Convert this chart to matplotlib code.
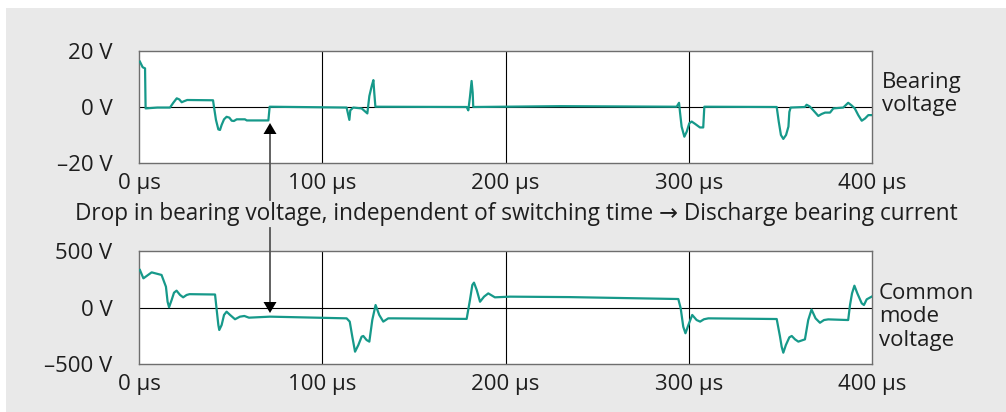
import numpy as np
import matplotlib.pyplot as plt
from matplotlib.patches import Rectangle, Polygon
from matplotlib.lines import Line2D

plt.rcParams.update({
    'font.family': ['Open Sans', 'DejaVu Sans'],
    'font.size': 16,
})

# bearing voltage trace (µs, V)
bear_t = [0.5, 2.0, 3.3, 3.6, 10, 16.9, 18.7, 20.6, 22.0, 23.3, 24.7, 26.3, 40.4,
          40.9, 42.0, 43.3, 44.2, 45.1, 46.4, 47.8, 49.3, 50.6, 51.8, 53.3, 57.8, 58.8, 70.6, 71.3,
          113.3, 114.8, 115.3, 116.9, 121.5, 124.6, 125.7, 127.0, 127.9, 128.4, 129.0,
          178.8, 179.7, 180.6, 181.5, 182.1, 182.4, 230,
          293.4, 294.7, 295.2, 296.1, 297.6, 298.9, 300.3, 301.6, 303.4, 306.1, 307.9, 308.5,
          348, 349.1, 350.3, 351.6, 353.1, 354.4, 354.9, 355.6, 363.4, 364.3, 366, 368, 370.7,
          372.5, 374.4, 377.1, 378.9, 384.3, 387, 388.8, 390.6, 392.5, 394.4, 396.2, 398, 399.8]
bear_v = [16.2, 14.2, 13.8, -0.5, -0.2, -0.2, 1.5, 3.1, 2.7, 1.7, 2.1, 2.5, 2.4,
          0.1, -4.6, -8.0, -8.2, -6.4, -4.4, -3.5, -3.8, -4.9, -5.0, -4.4, -4.4, -4.8, -4.8, 0.1,
          -0.2, -4.6, -1.2, -0.2, -0.5, -2.3, 3.9, 7.5, 9.6, 5.0, 0.1,
          0.0, -1.2, 3.6, 9.3, 5.0, 0.0, 0.3,
          0.1, 1.5, -1.7, -7.0, -10.6, -8.8, -5.8, -5.2, -6.0, -7.3, -7.3, 0.1,
          0.0, -5.2, -10.0, -11.4, -10.0, -7.0, -1.8, -0.2, 0.0, 0.8, 0.2, -1.2, -3.2,
          -2.5, -2.0, -2.0, -0.5, -0.2, 1.5, 0.6, -0.5, -2.9, -4.9, -4.1, -2.9, -2.9]

# common mode voltage trace (µs, V)
cm_t = [0.5, 2.4, 6.9, 12.3, 14.7, 15.6, 16.4, 17.8, 19.1, 20.5, 22.4, 24.1, 26.0, 27.6, 41.5,
        42.4, 43.3, 43.8, 45.1, 46.4, 47.8, 49.7, 52.4, 55.1, 57.5, 60, 71.5,
        113.3, 115, 116.4, 117.9, 119.7, 121.5, 122.4, 124.2, 125.7, 127.3, 129.1, 131.1, 133.3,
        136, 138.8, 178.8, 180.6, 181.9, 182.8, 184.3, 186.1, 188.3, 190.6, 194.2, 202.5, 235,
        294.3, 295.6, 297, 298.2, 299.8, 301.9, 304.3, 306.2, 308.3, 310.7,
        348, 349.8, 350.7, 351.6, 353, 354.9, 356.2, 358, 359.8, 363.4, 365.2, 367, 369.2,
        371.6, 373.8, 376.1, 387, 388, 389.1, 390.4, 392, 394.4, 395.6, 397.1, 399.8]
cm_v = [332, 258, 311, 288, 184, 51, 2, 66, 131, 149, 111, 90, 111, 118, 115,
        -22, -155, -199, -155, -66, -37, -66, -104, -81, -75, -90, -81,
        -96, -125, -258, -391, -332, -258, -252, -288, -302, -111, 22, -66, -125,
        -96, -96, -101, 66, 199, 220, 155, 51, 96, 125, 90, 96, 92,
        75, -7, -170, -228, -155, -66, -111, -125, -104, -96,
        -102, -258, -347, -400, -332, -264, -252, -282, -302, -282, -111, -18, -96,
        -135, -111, -105, -111, 22, 125, 193, 125, 37, 22, 72, 96]

x_ticks = [0, 100, 200, 300, 400]
x_labels = ['0 µs', '100 µs', '200 µs', '300 µs', '400 µs']
bear_ticks = [-20, 0, 20]
bear_labels = ['\u201320 V', '0 V', '20 V']
cm_ticks = [-500, 0, 500]
cm_labels = ['\u2013500 V', '0 V', '500 V']

TEAL = '#16998a'
INK = '#1e1e1e'
W, H = 1006, 412

def fx(px): return px / W
def fy(py): return 1 - py / H

fig = plt.figure(figsize=(W/100, H/100), dpi=100)
fig.patch.set_facecolor('white')
fig.add_artist(Rectangle((fx(6), 0), 1, fy(8), transform=fig.transFigure,
                         facecolor='#e9e9e9', edgecolor='none', zorder=-10))

ax1 = fig.add_axes([fx(139), fy(163), 733/W, 112/H])
ax2 = fig.add_axes([fx(139), fy(364), 733/W, 113/H])

def style(ax, yt, yl, lim):
    ax.set_xlim(0, 400); ax.set_ylim(-lim, lim)
    ax.set_xticks(x_ticks, x_labels); ax.set_yticks(yt, yl)
    ax.tick_params(length=0, labelsize=16, colors=INK)
    ax.tick_params(axis='x', pad=7); ax.tick_params(axis='y', pad=19)
    for s in ax.spines.values(): s.set_color('#6e6e6e'); s.set_linewidth(1.0)
    for x in x_ticks[1:-1]: ax.axvline(x, color='black', lw=0.8, zorder=1)
    ax.axhline(0, color='black', lw=0.8, zorder=1)

style(ax1, bear_ticks, bear_labels, 20)
style(ax2, cm_ticks, cm_labels, 500)
ax1.plot(bear_t, bear_v, color=TEAL, lw=1.6, zorder=3, solid_joinstyle='round')
ax2.plot(cm_t, cm_v, color=TEAL, lw=1.6, zorder=3, solid_joinstyle='round')

fig.text(fx(882), fy(94), 'Bearing\nvoltage', ha='left', va='center', fontsize=16, linespacing=1.15, color=INK)
fig.text(fx(879), fy(317), 'Common\nmode\nvoltage', ha='left', va='center', fontsize=16, linespacing=1.15, color=INK)
fig.text(fx(516), fy(214), 'Drop in bearing voltage, independent of switching time \u2192 Discharge bearing current',
         ha='center', va='center', fontsize=16.3, color=INK)

# arrow marking the bearing voltage drop
ax_x = 270
for y0, y1 in [(133, 200), (228, 303)]:
    fig.add_artist(Line2D([fx(ax_x), fx(ax_x)], [fy(y0), fy(y1)], transform=fig.transFigure,
                          color='#555555', lw=1.3))
fig.add_artist(Polygon([(fx(ax_x), fy(123)), (fx(ax_x-6.5), fy(134)), (fx(ax_x+6.5), fy(134))],
                       closed=True, transform=fig.transFigure, facecolor='black', edgecolor='none', zorder=5))
fig.add_artist(Polygon([(fx(ax_x), fy(313)), (fx(ax_x-6.5), fy(302)), (fx(ax_x+6.5), fy(302))],
                       closed=True, transform=fig.transFigure, facecolor='black', edgecolor='none', zorder=5))

fig.savefig('out.png', dpi=100)
